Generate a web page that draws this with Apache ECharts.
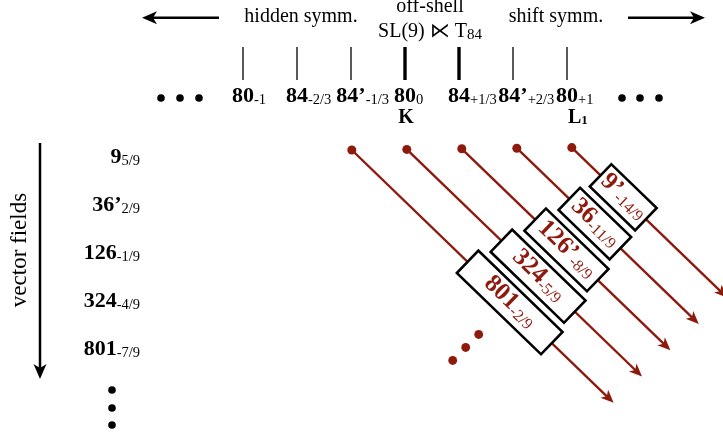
<!DOCTYPE html>
<html><head><meta charset="utf-8">
<script src="https://cdn.jsdelivr.net/npm/echarts/dist/echarts.min.js"></script>
<style>html,body{margin:0;padding:0;background:#fff}#c{width:723px;height:438px}</style>
</head><body><div id="c"></div>
<script>
// ---- data ----
// top row: representations, placed by their charge
const topNames   = ['80','84','84’','80','84','84’','80'];
const topSubs    = ['-1','-2/3','-1/3','0','+1/3','+2/3','+1'];
const topCharges = [-1, -2/3, -1/3, 0, 1/3, 2/3, 1];
const thickCharges = [0, 1/3];
// left column: vector fields
const fieldNames = ['9','36’','126','324','801'];
const fieldSubs  = ['5/9','2/9','-1/9','-4/9','-7/9'];
// diagonal towers: start charge, box labels
const towerCharges = [-1/3, 0, 1/3, 2/3, 1];
const boxNames = ['801','324','126’','36','9’'];
const boxSubs  = ['-2/9','-5/9','-8/9','-11/9','-14/9'];
// header and annotation texts
const headerLeft = 'hidden symm.';
const headerRight = 'shift symm.';
const headerMid1 = 'off-shell';
const headerMid2 = 'SL(9) ⋉ T';
const headerMid2Sub = '84';
const axisTitle = 'vector fields';
const markK = 'K';
const markL = 'L';
const markLSub = '1';

// ---- layout / style ----
const SERIF = "'Liberation Serif','Times New Roman',serif";
const RED = '#8e1a0e';
const FB = 'bold 22px ' + SERIF;
const FS = '14.5px ' + SERIF;
const FBB = 'bold 25px ' + SERIF;
const FBS = '16px ' + SERIF;
const FR = '20px ' + SERIF;
const cvs = document.createElement('canvas').getContext('2d');
function measure(t, f){ cvs.font = f; return cvs.measureText(t).width; }
function labelParts(x, y, main, sub, mode, color, mf, sf, subDy){
  const mw = measure(main, mf), sw = measure(sub, sf);
  let mx;
  if (mode === 'tick') mx = x - mw/2;
  else if (mode === 'right') mx = x - mw - sw;
  else mx = x - (mw + sw)/2;
  return [
    {type:'text', x: mx, y: y, style:{text: main, font: mf, fill: color, align:'left', verticalAlign:'middle'}},
    {type:'text', x: mx + mw, y: y + subDy, style:{text: sub, font: sf, fill: color, align:'left', verticalAlign:'middle'}}
  ];
}
const ANG = 44 * Math.PI / 180;
const UX = Math.cos(ANG), UY = Math.sin(ANG);
const BOX_LEN = [117, 102, 87, 71, 63];

function renderTop(params, api){
  const i = params.dataIndex;
  const q = api.value(0);
  const a = api.coord([q, 47]), b = api.coord([q, 80]), l = api.coord([q, 96]);
  const thick = thickCharges.some(t => Math.abs(t - q) < 1e-9);
  const ch = [{type:'line', shape:{x1:a[0], y1:a[1], x2:b[0], y2:b[1]},
               style:{stroke:'#000', lineWidth: thick ? 3.4 : 1.3}}];
  ch.push(...labelParts(l[0], l[1], topNames[i], topSubs[i], 'tick', '#000', FB, FS, 4));
  return {type:'group', children: ch};
}

function renderField(params, api){
  const i = params.dataIndex;
  const p = api.coord([0, 157 + 48 * i]);
  return {type:'group', children: labelParts(140, p[1], fieldNames[i], fieldSubs[i], 'right', '#000', FB, FS, 4)};
}

function renderTower(params, api){
  const i = params.dataIndex;
  const q = api.value(0);
  const p = api.coord([q, 150 - 0.6 * i]);
  const sx = p[0] + 0.8 + i, sy = p[1];
  const len = 216 + 37 * (4 - i);
  const tx = sx + len * UX, ty = sy + len * UY;
  const nx = -UY, ny = UX;
  const bx = tx - 13 * UX, by = ty - 13 * UY;
  const ch = [];
  ch.push({type:'line', shape:{x1:sx, y1:sy, x2:tx - 8*UX, y2:ty - 8*UY}, style:{stroke:RED, lineWidth:2.4}});
  ch.push({type:'polygon', shape:{points:[[tx,ty],[bx+5.5*nx,by+5.5*ny],[tx-9.5*UX,ty-9.5*UY],[bx-5.5*nx,by-5.5*ny]]}, style:{fill:RED}});
  ch.push({type:'circle', shape:{cx:sx, cy:sy, r:4.5}, style:{fill:RED}});
  const d = 71.5 + 37 * (4 - i);
  const cx = sx + d * UX, cy = sy + d * UY;
  const L = BOX_LEN[i];
  const inner = [{type:'rect', shape:{x:-L/2, y:-15.5, width:L, height:31}, style:{fill:'#fff', stroke:'#000', lineWidth:2.6}}];
  inner.push(...labelParts(0, -1, boxNames[i], boxSubs[i], 'center', RED, FBB, FBS, 5));
  ch.push({type:'group', x:cx, y:cy, rotation:-ANG, children: inner});
  if (i === 0) {
    for (let k = 0; k < 3; k++) {
      ch.push({type:'circle', shape:{cx: cx - 31 - 13*k, cy: cy + 32 + 13*k, r:4.4}, style:{fill:RED}});
    }
  }
  return {type:'group', children: ch};
}

function arrow(x1, y1, x2, y2){
  const dx = x2 - x1, dy = y2 - y1, l = Math.hypot(dx, dy);
  const ux = dx / l, uy = dy / l, nx = -uy, ny = ux;
  const bx = x2 - 15*ux, by = y2 - 15*uy;
  return [
    {type:'line', shape:{x1, y1, x2: x2 - 8*ux, y2: y2 - 8*uy}, style:{stroke:'#000', lineWidth:2.5}},
    {type:'polygon', shape:{points:[[x2,y2],[bx+6.5*nx,by+6.5*ny],[x2-11*ux,y2-11*uy],[bx-6.5*nx,by-6.5*ny]]}, style:{fill:'#000'}}
  ];
}
function dot(x, y){ return {type:'circle', shape:{cx:x, cy:y, r:3.8}, style:{fill:'#000'}}; }

const w2 = measure(headerMid2, FR), w2s = measure(headerMid2Sub, '15px ' + SERIF);
const h2x = 430 - (w2 + w2s) / 2;
const wL = measure(markL, 'bold 20px ' + SERIF);

const graphics = [
  ...arrow(219, 17.7, 142, 17.7),
  ...arrow(628, 17.7, 705, 17.7),
  ...arrow(40, 143, 40, 379),
  {type:'text', x:301, y:17, style:{text:headerLeft, font:FR, fill:'#000', align:'center', verticalAlign:'middle'}},
  {type:'text', x:556, y:17, style:{text:headerRight, font:FR, fill:'#000', align:'center', verticalAlign:'middle'}},
  {type:'text', x:430, y:7, style:{text:headerMid1, font:FR, fill:'#000', align:'center', verticalAlign:'middle'}},
  {type:'text', x:h2x, y:32, style:{text:headerMid2, font:FR, fill:'#000', align:'left', verticalAlign:'middle'}},
  {type:'text', x:h2x + w2, y:35, style:{text:headerMid2Sub, font:'15px ' + SERIF, fill:'#000', align:'left', verticalAlign:'middle'}},
  {type:'text', x:406, y:118, style:{text:markK, font:'bold 20px ' + SERIF, fill:'#000', align:'center', verticalAlign:'middle'}},
  {type:'text', x:568, y:118, style:{text:markL, font:'bold 20px ' + SERIF, fill:'#000', align:'left', verticalAlign:'middle'}},
  {type:'text', x:568 + wL, y:121, style:{text:markLSub, font:'bold 13px ' + SERIF, fill:'#000', align:'left', verticalAlign:'middle'}},
  {type:'text', x:20, y:250, rotation:Math.PI/2, style:{text:axisTitle, font:'23px ' + SERIF, fill:'#000', align:'center', verticalAlign:'middle'}},
  dot(161, 98), dot(180, 98), dot(199, 98),
  dot(622, 98), dot(640, 98), dot(659, 98),
  dot(112, 390), dot(112, 408), dot(112, 425)
];

const chart = echarts.init(document.getElementById('c'), null, {renderer:'canvas'});
chart.setOption({
  animation: false,
  grid: {left:0, right:0, top:0, bottom:0},
  xAxis: {type:'value', min:-2.5, max:723/162 - 2.5, show:false},
  yAxis: {type:'value', min:0, max:438, inverse:true, show:false},
  graphic: graphics.map(g => Object.assign({silent:true}, g)),
  series: [
    {type:'custom', name:'top', silent:true, clip:false, renderItem:renderTop, data: topCharges.map(q => [q, 0])},
    {type:'custom', name:'fields', silent:true, clip:false, renderItem:renderField, data: fieldNames.map((n, i) => [0, i])},
    {type:'custom', name:'towers', silent:true, clip:false, renderItem:renderTower, data: towerCharges.map(q => [q, 0])}
  ]
});
</script></body></html>
